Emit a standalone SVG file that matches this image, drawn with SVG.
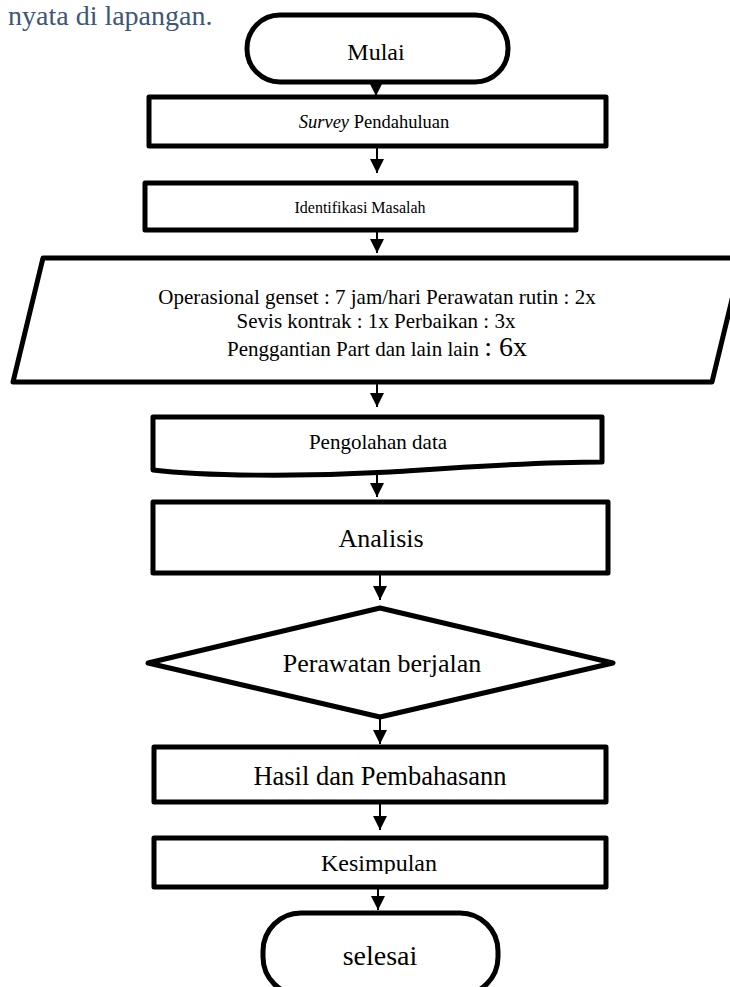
<svg xmlns="http://www.w3.org/2000/svg" width="730" height="987" viewBox="0 0 730 987">
<style>
.sh{fill:#fff;stroke:#000;stroke-width:5;stroke-linejoin:round}
.t{font-family:"Liberation Serif","Times New Roman",serif;fill:#000;text-anchor:middle}
.cn{stroke:#000;stroke-width:2;fill:none}
</style>
<defs>
<marker id="ah" markerUnits="userSpaceOnUse" markerWidth="14" markerHeight="14" refX="14" refY="7" orient="auto">
<path d="M0,0 L14,7 L0,14 Z" fill="#000"/>
</marker>
<clipPath id="kc"><rect x="150" y="840" width="460" height="34"/></clipPath>
</defs>
<rect width="730" height="987" fill="#fff"/>
<text x="8" y="25" font-family="Liberation Serif,serif" font-size="28" fill="#3e5677">nyata di lapangan.</text>

<g id="connectors">
<line class="cn" x1="376" y1="82" x2="376" y2="96" marker-end="url(#ah)"/>
<line class="cn" x1="377" y1="147" x2="377" y2="173" marker-end="url(#ah)"/>
<line class="cn" x1="377" y1="224" x2="377" y2="253" marker-end="url(#ah)"/>
<line class="cn" x1="377" y1="376" x2="377" y2="407" marker-end="url(#ah)"/>
<line class="cn" x1="377" y1="468" x2="377" y2="497" marker-end="url(#ah)"/>
<line class="cn" x1="380" y1="573" x2="380" y2="600" marker-end="url(#ah)"/>
<line class="cn" x1="380" y1="717" x2="380" y2="744" marker-end="url(#ah)"/>
<line class="cn" x1="380" y1="802" x2="380" y2="830" marker-end="url(#ah)"/>
<line class="cn" x1="378" y1="887" x2="378" y2="910" marker-end="url(#ah)"/>
</g>

<g id="mulai">
<rect class="sh" x="247" y="15" width="261" height="67" rx="33" ry="33"/>
<text class="t" x="376" y="60" font-size="24">Mulai</text>
</g>

<g id="survey">
<rect class="sh" x="149" y="97" width="457" height="49"/>
<text class="t" x="374" y="128" font-size="18.5"><tspan font-style="italic">Survey</tspan> Pendahuluan</text>
</g>

<g id="identifikasi">
<rect class="sh" x="145" y="183" width="431" height="47"/>
<text class="t" x="360" y="213" font-size="16">Identifikasi Masalah</text>
</g>

<g id="data">
<polygon class="sh" points="43,258 742,258 712,382 13,382"/>
<text class="t" x="377" y="304" font-size="21">Operasional genset : 7 jam/hari Perawatan rutin : 2x</text>
<text class="t" x="376" y="328" font-size="21">Sevis kontrak : 1x Perbaikan : 3x</text>
<text class="t" x="377" y="356" font-size="21">Penggantian Part dan lain lain <tspan font-size="28">: 6x</tspan></text>
</g>

<g id="pengolahan">
<path class="sh" d="M153,417 H602 V462 C530,462 450,468 390,472 C300,477 200,476 153,470 Z"/>
<text class="t" x="378" y="449" font-size="21">Pengolahan data</text>
</g>

<g id="analisis">
<rect class="sh" x="153" y="502" width="455" height="71"/>
<text class="t" x="381" y="547" font-size="26">Analisis</text>
</g>

<g id="perawatan">
<polygon class="sh" points="380,608 613,663 380,717 148,663"/>
<text class="t" x="382" y="672" font-size="26">Perawatan berjalan</text>
</g>

<g id="hasil">
<rect class="sh" x="154" y="747" width="452" height="55"/>
<text class="t" x="380" y="785" font-size="26.5">Hasil dan Pembahasann</text>
</g>

<g id="kesimpulan">
<rect class="sh" x="154" y="838" width="452" height="49"/>
<text class="t" x="379" y="871" font-size="24" clip-path="url(#kc)">Kesimpulan</text>
</g>

<g id="selesai">
<rect class="sh" x="263" y="913" width="235" height="82" rx="38" ry="38"/>
<text class="t" x="380" y="965" font-size="28">selesai</text>
</g>
</svg>
